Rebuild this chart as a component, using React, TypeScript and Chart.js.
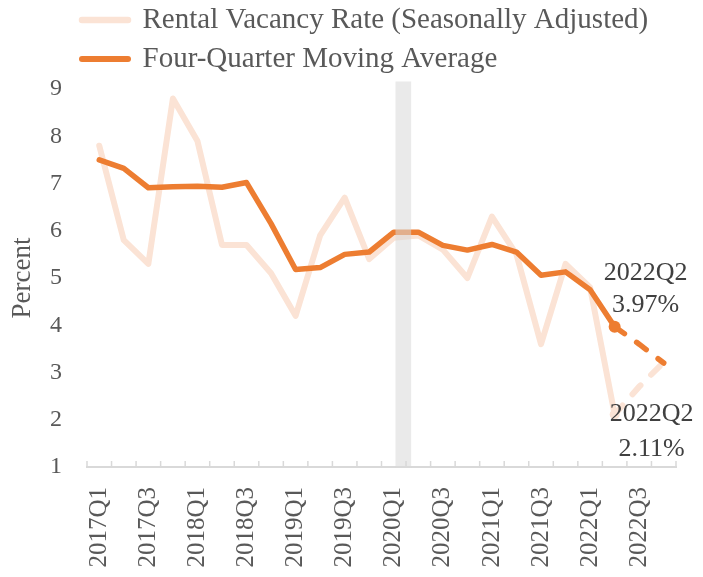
import React, { useEffect, useRef } from "react";
import { Chart, registerables } from "chart.js";

Chart.register(...registerables);

const quarters = [
  "2017Q1", "2017Q2", "2017Q3", "2017Q4",
  "2018Q1", "2018Q2", "2018Q3", "2018Q4",
  "2019Q1", "2019Q2", "2019Q3", "2019Q4",
  "2020Q1", "2020Q2", "2020Q3", "2020Q4",
  "2021Q1", "2021Q2", "2021Q3", "2021Q4",
  "2022Q1", "2022Q2", "2022Q3", "2022Q4",
];

const xTickLabels = [
  "2017Q1", "2017Q3", "2018Q1", "2018Q3", "2019Q1", "2019Q3",
  "2020Q1", "2020Q3", "2021Q1", "2021Q3", "2022Q1", "2022Q3",
];

const rentalVacancyRate = [
  7.8, 5.8, 5.3, 8.8, 7.9, 5.7, 5.7, 5.1, 4.2, 5.9, 6.7, 5.4,
  5.85, 5.9, 5.6, 5.0, 6.3, 5.5, 3.6, 5.3, 4.8, 2.11, null, null,
];
const rentalVacancyProjection = [
  null, null, null, null, null, null, null, null, null, null, null, null,
  null, null, null, null, null, null, null, null, null, 2.11, 2.7, 3.22,
];
const movingAverage = [
  7.5, 7.32, 6.91, 6.93, 6.94, 6.92, 7.02, 6.15, 5.18, 5.22, 5.5, 5.55,
  5.97, 5.97, 5.69, 5.59, 5.71, 5.55, 5.06, 5.13, 4.75, 3.97, null, null,
];
const movingAverageProjection = [
  null, null, null, null, null, null, null, null, null, null, null, null,
  null, null, null, null, null, null, null, null, null, 3.97, 3.6, 3.2,
];

const yTicks = [1, 2, 3, 4, 5, 6, 7, 8, 9];
// recession shading: position on the quarter index, and its vertical span in percent
const recessionShade = [{ x: 12.2, y: [1, 9.15] }];
const highlightQuarter = "2022Q2";

const FONT = "'Liberation Serif', 'Times New Roman', serif";
const TEXT = "#595959";
const LIGHT = "#FBE3D5";
const ORANGE = "#ED7D31";

export default function App() {
  const ref = useRef<HTMLCanvasElement | null>(null);

  useEffect(() => {
    if (!ref.current) return;
    const hi = quarters.indexOf(highlightQuarter);

    const insideTicks = {
      id: "insideTicks",
      afterDraw(chart: any) {
        const xs = chart.scales.x;
        const { ctx, chartArea } = chart;
        ctx.save();
        ctx.strokeStyle = "#D9D9D9";
        ctx.lineWidth = 1.5;
        for (let i = 0; i <= quarters.length; i++) {
          const px = xs.getPixelForValue(i - 0.5);
          ctx.beginPath();
          ctx.moveTo(px, chartArea.bottom - 6);
          ctx.lineTo(px, chartArea.bottom);
          ctx.stroke();
        }
        ctx.restore();
      },
    };

    const legendShift = {
      id: "legendShift",
      afterLayout(chart: any) {
        const l = chart.legend;
        if (l) {
          l.left = 72;
          l.top -= 5.5;
          l.bottom -= 5.5;
        }
      },
    };

    const annotations = {
      id: "annotations",
      afterDraw(chart: any) {
        const { ctx } = chart;
        const pMa = chart.getDatasetMeta(1).data[hi];
        const pRv = chart.getDatasetMeta(0).data[hi];
        ctx.save();
        ctx.font = `26px ${FONT}`;
        ctx.fillStyle = "#404040";
        ctx.textAlign = "center";
        ctx.textBaseline = "middle";
        ctx.fillText(highlightQuarter, pMa.x + 31, pMa.y - 53);
        ctx.fillText(`${movingAverage[hi]}%`, pMa.x + 31, pMa.y - 21);
        ctx.fillText(highlightQuarter, pRv.x + 37, pRv.y);
        ctx.fillText(`${rentalVacancyRate[hi]}%`, pRv.x + 37, pRv.y + 35);
        ctx.restore();
      },
    };

    const chart = new Chart(ref.current, {
      type: "line",
      data: {
        labels: quarters,
        datasets: [
          {
            label: "Rental Vacancy Rate (Seasonally Adjusted)",
            data: rentalVacancyRate,
            borderColor: LIGHT,
            backgroundColor: LIGHT,
            borderWidth: 6,
            borderCapStyle: "round",
            borderJoinStyle: "round",
            pointRadius: (c: any) => (c.dataIndex === hi ? 5 : 0),
            pointBorderWidth: 0,
            pointBackgroundColor: LIGHT,
            tension: 0,
            order: 3,
          },
          {
            label: "Four-Quarter Moving Average",
            data: movingAverage,
            borderColor: ORANGE,
            backgroundColor: ORANGE,
            borderWidth: 5.5,
            borderCapStyle: "round",
            borderJoinStyle: "round",
            pointRadius: (c: any) => (c.dataIndex === hi ? 6 : 0),
            pointBorderWidth: 0,
            pointBackgroundColor: ORANGE,
            tension: 0,
            order: 1,
          },
          {
            label: "",
            data: rentalVacancyProjection,
            borderColor: LIGHT,
            borderWidth: 6,
            borderDash: [12, 15],
            borderCapStyle: "round",
            pointRadius: 0,
            tension: 0,
            order: 4,
          },
          {
            label: "",
            data: movingAverageProjection,
            borderColor: ORANGE,
            borderWidth: 5.5,
            borderDash: [12, 15],
            borderCapStyle: "round",
            pointRadius: 0,
            tension: 0,
            order: 2,
          },
          {
            type: "bar",
            label: "",
            data: recessionShade as any,
            xAxisID: "x2",
            backgroundColor: "rgba(217,217,217,0.55)",
            borderWidth: 0,
            barThickness: 15,
            clip: false as any,
            order: 0,
          } as any,
        ],
      },
      options: {
        animation: false,
        responsive: false,
        layout: { padding: { top: 1, right: 27, left: 0, bottom: 0 } },
        plugins: {
          tooltip: { enabled: false },
          legend: {
            position: "top",
            align: "start",
            labels: {
              usePointStyle: true,
              pointStyle: "line",
              pointStyleWidth: 46,
              padding: 10,
              color: TEXT,
              font: { family: FONT, size: 29 },
              generateLabels: (ch: any) =>
                [0, 1].map((i) => {
                  const ds = ch.data.datasets[i];
                  return {
                    text: ds.label,
                    fillStyle: ds.borderColor,
                    strokeStyle: ds.borderColor,
                    lineWidth: ds.borderWidth + 0.5,
                    lineCap: "round",
                    pointStyle: "line",
                    hidden: false,
                    fontColor: TEXT,
                    datasetIndex: i,
                  };
                }),
            },
          },
        },
        scales: {
          x: {
            type: "category",
            offset: true,
            grid: { display: false, drawTicks: false, offset: true },
            border: { display: true, color: "#D9D9D9", width: 2 },
            ticks: {
              autoSkip: false,
              maxRotation: 90,
              minRotation: 90,
              padding: 20,
              color: TEXT,
              font: { family: FONT, size: 25 },
              callback: (_v: any, i: number) =>
                xTickLabels.includes(quarters[i]) ? quarters[i] : "",
            },
            afterFit: (s: any) => {
              s.height = 110;
              s.paddingLeft = 0;
              s.paddingRight = 0;
            },
          },
          x2: {
            type: "linear",
            display: false,
            min: -0.5,
            max: quarters.length - 0.5,
          },
          y: {
            min: yTicks[0],
            max: yTicks[yTicks.length - 1],
            grid: { display: false, drawTicks: false },
            border: { display: false },
            ticks: {
              stepSize: 1,
              padding: 25,
              color: TEXT,
              font: { family: FONT, size: 24 },
            },
            title: {
              display: true,
              text: "Percent",
              color: TEXT,
              font: { family: FONT, size: 27 },
              padding: { top: 7, bottom: 0 },
            },
            afterFit: (s: any) => {
              s.width = 87;
            },
          },
        },
      },
      plugins: [insideTicks, legendShift, annotations],
    } as any);

    return () => chart.destroy();
  }, []);

  return (
    <div style={{ position: "fixed", left: 0, top: 0, width: 703, height: 577, background: "#fff" }}>
      <canvas ref={ref} width={703} height={577} style={{ display: "block" }} />
    </div>
  );
}
